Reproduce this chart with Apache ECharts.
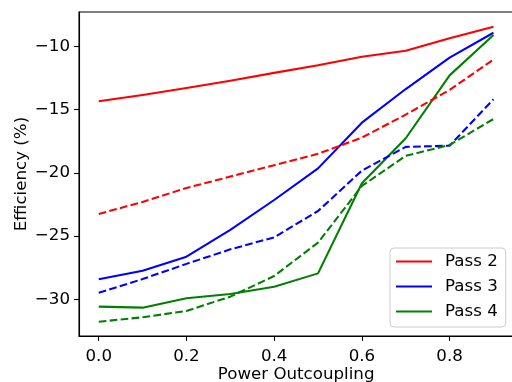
<!DOCTYPE html>
<html>
<head>
<meta charset="utf-8">
<script src="https://cdn.jsdelivr.net/npm/echarts@6/dist/echarts.min.js"></script>
<style>html,body{margin:0;padding:0;background:#fff}#c{width:512px;height:382px}</style>
</head>
<body>
<div id="c"></div>
<script>
const outcoupling = [0.0, 0.1, 0.2, 0.3, 0.4, 0.5, 0.6, 0.7, 0.8, 0.9];
const pass2Solid = [-14.35, -13.85, -13.3, -12.72, -12.1, -11.5, -10.82, -10.35, -9.37, -8.45];
const pass2Dashed = [-23.26, -22.3, -21.2, -20.3, -19.4, -18.5, -17.22, -15.4, -13.45, -11.05];
const pass3Solid = [-28.42, -27.74, -26.63, -24.52, -22.15, -19.65, -16.04, -13.38, -10.9, -8.93];
const pass3Dashed = [-29.48, -28.4, -27.2, -26.05, -25.1, -23.02, -19.83, -17.95, -17.86, -14.19];
const pass4Solid = [-30.58, -30.66, -29.92, -29.58, -29.0, -27.95, -20.83, -17.27, -12.3, -9.1];
const pass4Dashed = [-31.77, -31.42, -30.92, -29.79, -28.16, -25.52, -21.04, -18.66, -17.8, -15.75];
const xTicks = [0.0, 0.2, 0.4, 0.6, 0.8];
const yTicks = [-30, -25, -20, -15, -10];
const legendNames = ['Pass 2', 'Pass 3', 'Pass 4'];

const FONT = 'DejaVu Sans';
const FS = 16.67;
const pairs = arr => outcoupling.map((x, i) => [x, arr[i]]);
const dash = [7.7, 3.3];
function line(name, data, color, dashed) {
  return {
    name: name, type: 'line', data: pairs(data), symbol: 'none', silent: true,
    lineStyle: { color: color, width: 2.08, type: dashed ? dash : 'solid', cap: 'butt', join: 'round' },
    itemStyle: { color: color },
    animation: false
  };
}

const chart = echarts.init(document.getElementById('c'), null, { renderer: 'canvas' });
chart.setOption({
  animation: false,
  backgroundColor: '#fff',
  textStyle: { fontFamily: FONT },
  grid: { left: 79, top: 12, right: -1.2, bottom: 46, outerBoundsMode: 'none', containLabel: false, show: true, borderColor: '#000', borderWidth: 1.1, backgroundColor: 'transparent' },
  legend: {
    data: legendNames,
    orient: 'vertical',
    left: 390, top: 248,
    padding: [4, 8, 6, 6],
    itemGap: 6,
    itemWidth: 36, itemHeight: 2,
    icon: 'rect',
    backgroundColor: 'rgba(255,255,255,0.8)',
    borderColor: '#cccccc', borderWidth: 1, borderRadius: 4,
    textStyle: { fontFamily: FONT, fontSize: FS, color: '#000', lineHeight: 19, padding: [0, 0, 0, 8] }
  },
  xAxis: {
    type: 'value', min: -0.045, max: 0.945,
    name: 'Power Outcoupling', nameLocation: 'middle', nameGap: 30, nameMoveOverlap: false,
    nameTextStyle: { fontFamily: FONT, fontSize: FS, color: '#000' },
    axisLine: { show: true, onZero: false, lineStyle: { color: '#000', width: 1.1 } },
    axisTick: { show: true, inside: false, length: 4.9, customValues: xTicks, lineStyle: { color: '#000', width: 1.1 } },
    axisLabel: { customValues: xTicks, formatter: v => v.toFixed(1), fontFamily: FONT, fontSize: FS, color: '#000', margin: 12 },
    splitLine: { show: false }
  },
  yAxis: {
    type: 'value', min: -32.9, max: -7.29,
    name: 'Efficiency (%)', nameLocation: 'middle', nameGap: 49, nameRotate: 90, nameMoveOverlap: false,
    nameTextStyle: { fontFamily: FONT, fontSize: FS, color: '#000' },
    axisLine: { show: true, onZero: false, lineStyle: { color: '#000', width: 1.1 } },
    axisTick: { show: true, inside: false, length: 4.9, customValues: yTicks, lineStyle: { color: '#000', width: 1.1 } },
    axisLabel: { customValues: yTicks, formatter: v => (v < 0 ? '\u2212' + Math.abs(v) : String(v)), fontFamily: FONT, fontSize: FS, color: '#000', margin: 9 },
    splitLine: { show: false }
  },
  series: [
    line('Pass 2', pass2Solid, '#ff0000', false),
    line('Pass 3', pass3Solid, '#0000ff', false),
    line('Pass 4', pass4Solid, '#008000', false),
    line('Pass 2 dashed', pass2Dashed, '#ff0000', true),
    line('Pass 3 dashed', pass3Dashed, '#0000ff', true),
    line('Pass 4 dashed', pass4Dashed, '#008000', true)
  ]
});
</script>
</body>
</html>
